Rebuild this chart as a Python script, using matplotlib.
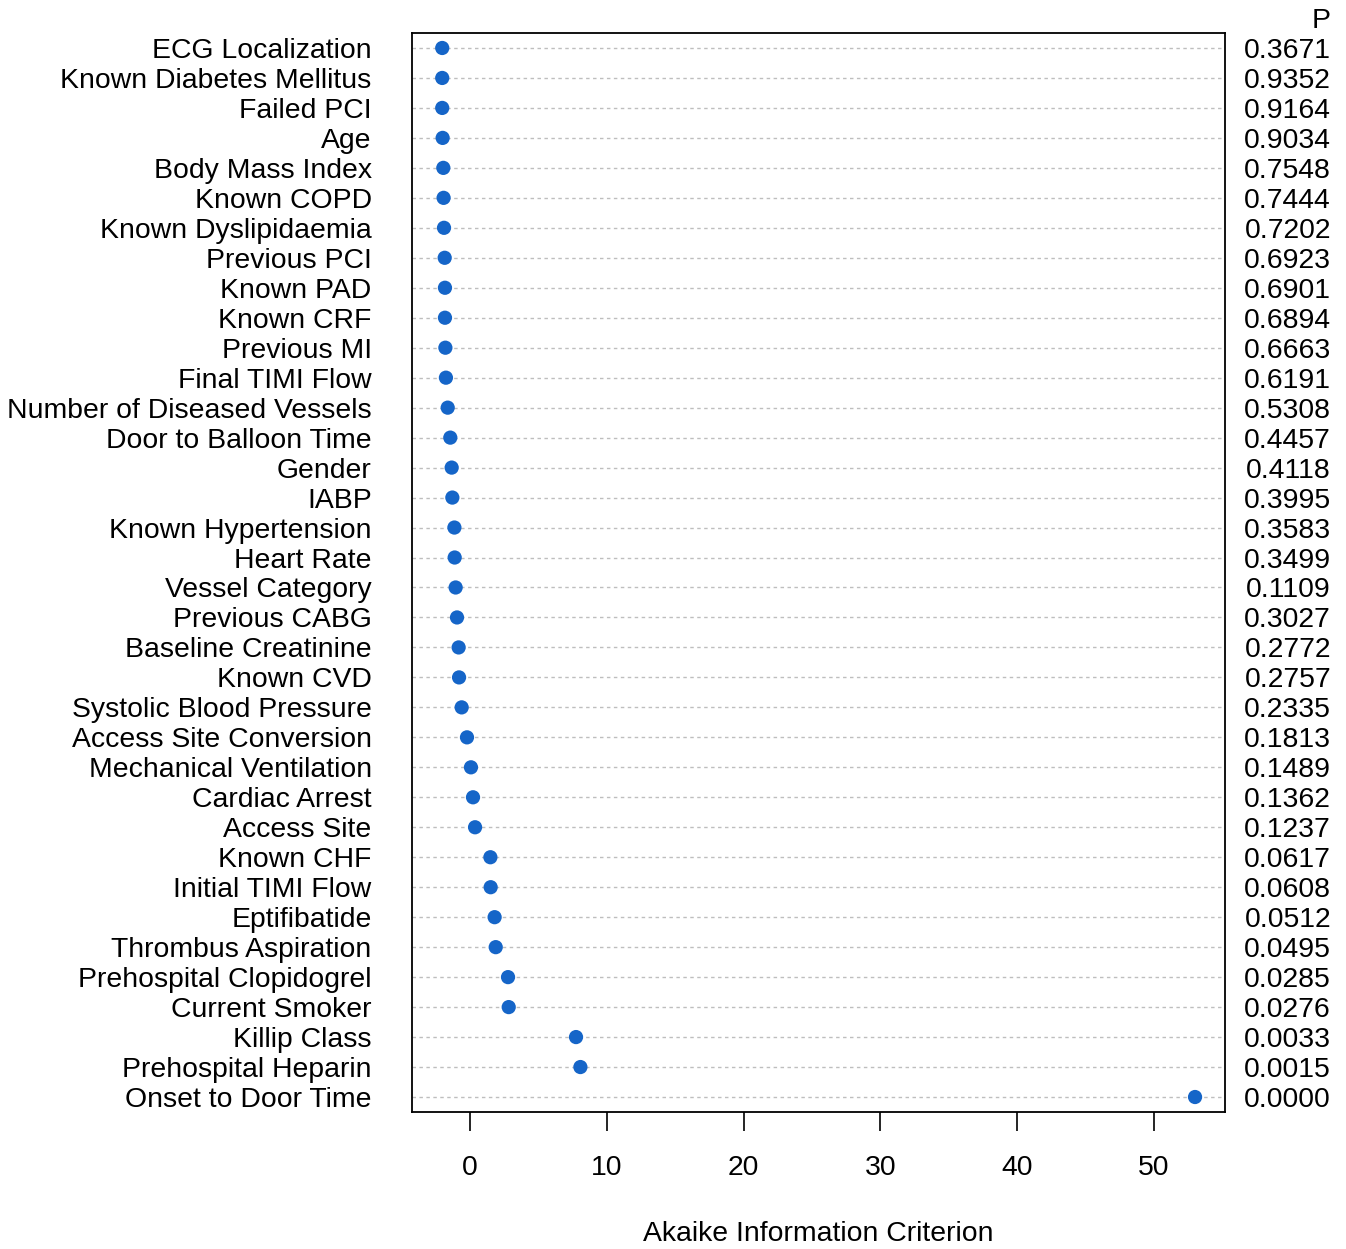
import matplotlib
matplotlib.use("Agg")
import matplotlib.pyplot as plt
from matplotlib.transforms import blended_transform_factory

plt.rcParams['font.family'] = ['Liberation Sans', 'DejaVu Sans']

variables = [
    "ECG Localization", "Known Diabetes Mellitus", "Failed PCI", "Age",
    "Body Mass Index", "Known COPD", "Known Dyslipidaemia", "Previous PCI",
    "Known PAD", "Known CRF", "Previous MI", "Final TIMI Flow",
    "Number of Diseased Vessels", "Door to Balloon Time", "Gender", "IABP",
    "Known Hypertension", "Heart Rate", "Vessel Category", "Previous CABG",
    "Baseline Creatinine", "Known CVD", "Systolic Blood Pressure",
    "Access Site Conversion", "Mechanical Ventilation", "Cardiac Arrest",
    "Access Site", "Known CHF", "Initial TIMI Flow", "Eptifibatide",
    "Thrombus Aspiration", "Prehospital Clopidogrel", "Current Smoker",
    "Killip Class", "Prehospital Heparin", "Onset to Door Time",
]
aic = [
    -2.03, -2.03, -2.03, -2.00, -1.95, -1.93, -1.90, -1.85, -1.83, -1.83,
    -1.80, -1.76, -1.63, -1.44, -1.34, -1.29, -1.14, -1.12, -1.05, -0.95,
    -0.83, -0.80, -0.61, -0.22, 0.07, 0.22, 0.37, 1.49, 1.51, 1.80,
    1.88, 2.78, 2.83, 7.75, 8.07, 53.0,
]
p_values = [
    "0.3671", "0.9352", "0.9164", "0.9034", "0.7548", "0.7444", "0.7202",
    "0.6923", "0.6901", "0.6894", "0.6663", "0.6191", "0.5308", "0.4457",
    "0.4118", "0.3995", "0.3583", "0.3499", "0.1109", "0.3027", "0.2772",
    "0.2757", "0.2335", "0.1813", "0.1489", "0.1362", "0.1237", "0.0617",
    "0.0608", "0.0512", "0.0495", "0.0285", "0.0276", "0.0033", "0.0015",
    "0.0000",
]
xticks = [0, 10, 20, 30, 40, 50]
x_label = "Akaike Information Criterion"
p_header = "P"

FS = 20.4
W, H = 1346, 1249
fig = plt.figure(figsize=(W / 100, H / 100), dpi=100)
L, R, T, B = 412, 1225, 33, 1112
ax = fig.add_axes([L / W, 1 - B / H, (R - L) / W, (B - T) / H])

n = len(variables)
ypos = [n - i for i in range(n)]

for y in ypos:
    ax.axhline(y, color='#BEBEBE', lw=1.0, linestyle=(0, (2.5, 2.5)), zorder=1)

ax.scatter(aic, ypos, s=105, color='#1565C8', zorder=3, edgecolors='none')

ax.set_xlim(-4.24, 55.19)
ax.set_ylim(0.5, n + 0.5)

ax.set_yticks(ypos)
ax.set_yticklabels(variables, fontsize=FS, va='center_baseline')
ax.tick_params(axis='y', length=0, pad=29)

ax.set_xticks(xticks)
ax.set_xticklabels([str(t) for t in xticks], fontsize=FS)
ax.tick_params(axis='x', length=13.5, width=1.2, pad=17.5, direction='out')

for s in ax.spines.values():
    s.set_linewidth(1.3)
    s.set_color('black')

tr = blended_transform_factory(ax.transAxes, ax.transData)
xr = (1331 - L) / (R - L)
for y, p in zip(ypos, p_values):
    ax.text(xr, y, p, transform=tr, ha='right', va='center_baseline', fontsize=FS, clip_on=False)
ax.text(xr, n + 1, p_header, transform=tr, ha='right', va='center_baseline', fontsize=FS, clip_on=False)

fig.text((L + R) / 2 / W, 1 - 1234 / H, x_label, ha='center', va='center', fontsize=FS)

fig.savefig("out.png", dpi=100)
